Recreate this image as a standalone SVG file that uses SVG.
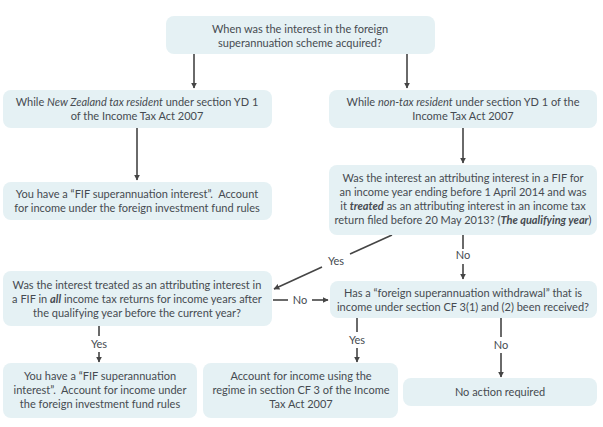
<svg xmlns="http://www.w3.org/2000/svg" width="603" height="427" viewBox="0 0 603 427">
<defs>
<marker id="ah" viewBox="0 0 10 10" refX="9" refY="5" markerWidth="6" markerHeight="6" orient="auto" markerUnits="userSpaceOnUse">
<path d="M0,0 L10,5 L0,10 z" fill="#454545"/>
</marker>
<style>
.box{fill:#e5f1f4;}
.t{font-family:Lato,"Open Sans",sans-serif;font-size:11px;fill:#454b51;text-anchor:middle;}
.c{stroke:#454545;stroke-width:1.6;fill:none;}
.lab{font-family:Lato,"Open Sans",sans-serif;font-size:11px;fill:#454b51;text-anchor:middle;}
</style>
</defs>
<rect width="603" height="427" fill="#ffffff"/>
<g id="connectors">
<line class="c" x1="194" y1="54" x2="194" y2="88" marker-end="url(#ah)"/>
<line class="c" x1="407" y1="54" x2="407" y2="88" marker-end="url(#ah)"/>
<line class="c" x1="137" y1="128" x2="137" y2="180" marker-end="url(#ah)"/>
<line class="c" x1="463" y1="128" x2="463" y2="163" marker-end="url(#ah)"/>
<line class="c" x1="392" y1="235" x2="350" y2="254"/>
<line class="c" x1="322" y1="267" x2="274" y2="289" marker-end="url(#ah)"/>
<text class="lab" x="336" y="265">Yes</text>
<line class="c" x1="463" y1="235" x2="463" y2="249"/>
<text class="lab" x="463" y="259">No</text>
<line class="c" x1="463" y1="264" x2="463" y2="279" marker-end="url(#ah)"/>
<line class="c" x1="273" y1="300" x2="288" y2="300"/>
<text class="lab" x="300" y="304">No</text>
<line class="c" x1="312" y1="300" x2="328" y2="300" marker-end="url(#ah)"/>
<line class="c" x1="99" y1="326" x2="99" y2="336"/>
<text class="lab" x="99" y="348">Yes</text>
<line class="c" x1="99" y1="352" x2="99" y2="362" marker-end="url(#ah)"/>
<line class="c" x1="357" y1="318" x2="357" y2="332"/>
<text class="lab" x="357" y="344">Yes</text>
<line class="c" x1="357" y1="348" x2="357" y2="362" marker-end="url(#ah)"/>
<line class="c" x1="501" y1="318" x2="501" y2="337"/>
<text class="lab" x="501" y="349">No</text>
<line class="c" x1="501" y1="353" x2="501" y2="377" marker-end="url(#ah)"/>
</g>
<g id="n1">
<rect class="box" x="166" y="16" width="269" height="38" rx="8"/>
<text class="t" x="300" y="33">When was the interest in the foreign</text>
<text class="t" x="300" y="47">superannuation scheme acquired?</text>
</g>
<g id="n2">
<rect class="box" x="3" y="90" width="269" height="38" rx="8"/>
<text class="t" x="137" y="106">While <tspan font-style="italic">New Zealand tax resident</tspan> under section YD 1</text>
<text class="t" x="137" y="120">of the Income Tax Act 2007</text>
</g>
<g id="n3">
<rect class="box" x="329" y="90" width="268" height="38" rx="8"/>
<text class="t" x="463" y="106">While <tspan font-style="italic">non-tax resident</tspan> under section YD 1 of the</text>
<text class="t" x="463" y="120">Income Tax Act 2007</text>
</g>
<g id="n4">
<rect class="box" x="3" y="182" width="269" height="38" rx="8"/>
<text class="t" x="137" y="198">You have a “FIF superannuation interest”.&#160; Account</text>
<text class="t" x="137" y="212">for income under the foreign investment fund rules</text>
</g>
<g id="n5">
<rect class="box" x="329" y="165" width="268" height="70" rx="8"/>
<text class="t" x="463" y="182">Was the interest an attributing interest in a FIF for</text>
<text class="t" x="463" y="196">an income year ending before 1 April 2014 and was</text>
<text class="t" x="463" y="210">it <tspan font-style="italic" font-weight="bold">treated</tspan> as an attributing interest in an income tax</text>
<text class="t" x="463" y="224">return filed before 20 May 2013? (<tspan font-style="italic" font-weight="bold">The qualifying year</tspan>)</text>
</g>
<g id="n6">
<rect class="box" x="3" y="271" width="269" height="55" rx="8"/>
<text class="t" x="137" y="289">Was the interest treated as an attributing interest in</text>
<text class="t" x="137" y="303">a FIF in <tspan font-style="italic" font-weight="bold">all</tspan> income tax returns for income years after</text>
<text class="t" x="137" y="317">the qualifying year before the current year?</text>
</g>
<g id="n7">
<rect class="box" x="330" y="281" width="267" height="37" rx="8"/>
<text class="t" x="463" y="297">Has a “foreign superannuation withdrawal” that is</text>
<text class="t" x="463" y="311">income under section CF 3(1) and (2) been received?</text>
</g>
<g id="n8">
<rect class="box" x="3" y="363" width="194" height="55" rx="8"/>
<text class="t" x="100" y="380">You have a “FIF superannuation</text>
<text class="t" x="100" y="394">interest”.&#160; Account for income under</text>
<text class="t" x="100" y="408">the foreign investment fund rules</text>
</g>
<g id="n9">
<rect class="box" x="203" y="363" width="195" height="55" rx="8"/>
<text class="t" x="301" y="380">Account for income using the</text>
<text class="t" x="301" y="394">regime in section CF 3 of the Income</text>
<text class="t" x="301" y="408">Tax Act 2007</text>
</g>
<g id="n10">
<rect class="box" x="403" y="378" width="194" height="28" rx="8"/>
<text class="t" x="500" y="396">No action required</text>
</g>
</svg>
